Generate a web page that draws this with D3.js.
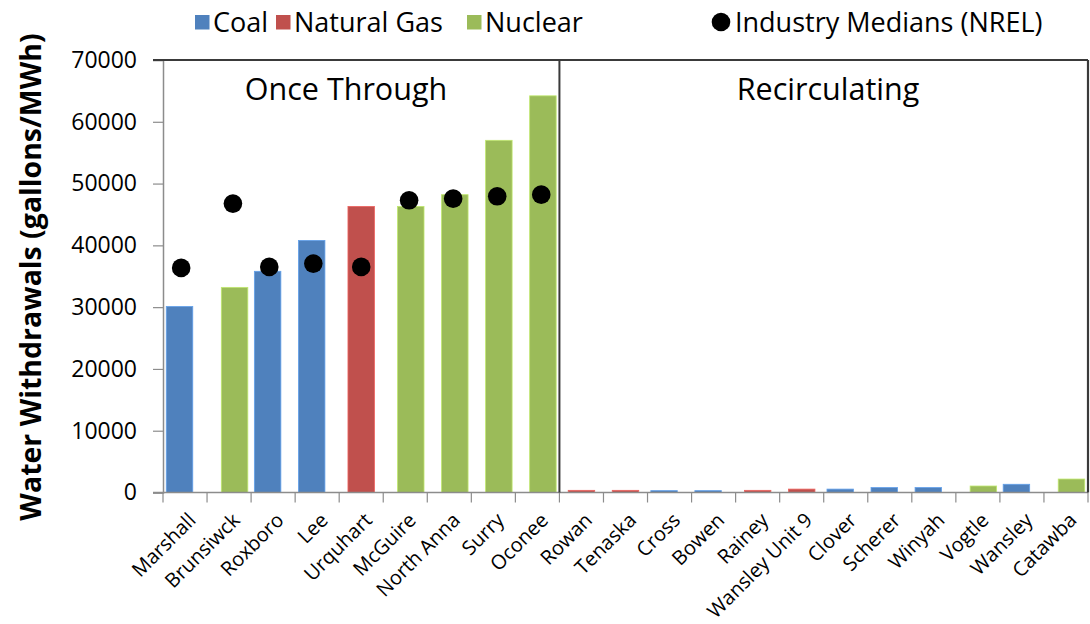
<!DOCTYPE html>
<html>
<head>
<meta charset="utf-8">
<script src="https://cdn.jsdelivr.net/npm/d3@7"></script>
<style>
  html, body { margin: 0; padding: 0; background: #fff; }
  svg text { font-family: "Open Sans", "Noto Sans", sans-serif; }
</style>
</head>
<body>
<svg id="chart" width="1090" height="624"></svg>
<script>
// ---- Data ----
const categories = ["Marshall","Brunsiwck","Roxboro","Lee","Urquhart","McGuire","North Anna","Surry","Oconee",
  "Rowan","Tenaska","Cross","Bowen","Rainey","Wansley Unit 9","Clover","Scherer","Winyah","Vogtle","Wansley","Catawba"];
const fuelTypes = ["Coal","Nuclear","Coal","Coal","Natural Gas","Nuclear","Nuclear","Nuclear","Nuclear",
  "Natural Gas","Natural Gas","Coal","Coal","Natural Gas","Natural Gas","Coal","Coal","Coal","Nuclear","Coal","Nuclear"];
const withdrawals = [30100, 33200, 35800, 40800, 46300, 46300, 48200, 57000, 64200,
  350, 350, 300, 300, 350, 550, 550, 800, 800, 1050, 1330, 2180];
const medianPlants = ["Marshall","Brunsiwck","Roxboro","Lee","Urquhart","McGuire","North Anna","Surry","Oconee"];
const medianValues = [36350, 46760, 36510, 37050, 36510, 47290, 47560, 47940, 48210];
const seriesNames = ["Coal","Natural Gas","Nuclear"];
const seriesColors = ["#4F81BD","#C0504D","#9BBB59"];
const panelNames = ["Once Through","Recirculating"];
const panelSizes = [9, 12];
const yTicks = [0,10000,20000,30000,40000,50000,60000,70000];
const yTitle = "Water Withdrawals (gallons/MWh)";
const medianLabel = "Industry Medians (NREL)";

// ---- Layout ----
const svg = d3.select("#chart");
const pLeft = 163, pRight = 1088, pTop = 60, pBottom = 492.5;

const x = d3.scaleBand().domain(categories).range([pLeft, pRight]).padding(0);
const y = d3.scaleLinear().domain([0, 70000]).range([pBottom, pTop]);
const offset = d3.scalePoint().domain(seriesNames).range([-5.5, 5.5]);
const color = d3.scaleOrdinal().domain(seriesNames).range(seriesColors);
const barW = 26.5;

const rows = categories.map((c, i) => ({ name: c, type: fuelTypes[i], value: withdrawals[i] }));

// bars
svg.append("g").selectAll("rect").data(rows).join("rect")
  .attr("x", d => x(d.name) + x.bandwidth() / 2 + offset(d.type) - barW / 2)
  .attr("y", d => y(d.value))
  .attr("width", barW)
  .attr("height", d => y(0) - y(d.value))
  .attr("fill", d => color(d.type))
  .attr("stroke", d => d3.color(color(d.type)).brighter(0.6))
  .attr("stroke-width", 0.8);

// y axis
const yAxis = svg.append("g").attr("transform", `translate(${pLeft},0)`)
  .call(d3.axisLeft(y).tickValues(yTicks).tickFormat(d3.format("d")).tickSize(10).tickPadding(16));
yAxis.select(".domain").attr("stroke", "#8c8c8c").attr("stroke-width", 1.5);
yAxis.selectAll(".tick line").attr("stroke", "#8c8c8c").attr("stroke-width", 1.2);
yAxis.selectAll(".tick text").attr("font-size", 23).attr("fill", "#000")
  .style("font-family", '"Open Sans", sans-serif');

// x axis line with boundary ticks
const xg = svg.append("g");
xg.append("line").attr("x1", pLeft - 10).attr("x2", pRight).attr("y1", y(0)).attr("y2", y(0))
  .attr("stroke", "#8c8c8c").attr("stroke-width", 1.5);
const bounds = categories.map(c => x(c)).concat([pRight]);
xg.selectAll("line.tk").data(bounds).join("line").attr("class", "tk")
  .attr("x1", d => d).attr("x2", d => d).attr("y1", y(0)).attr("y2", y(0) + 10)
  .attr("stroke", "#8c8c8c").attr("stroke-width", 1.2);

// x labels rotated
xg.selectAll("text").data(categories).join("text")
  .attr("transform", d => `translate(${x(d) + x.bandwidth() / 2 + 12},${y(0) + 29}) rotate(-45)`)
  .attr("text-anchor", "end")
  .attr("font-size", 20)
  .attr("fill", "#000")
  .text(d => d);

// frame: top line, divider, right border
const dividerX = x(categories[panelSizes[0]]);
svg.append("line").attr("x1", pLeft - 10).attr("x2", pRight).attr("y1", pTop).attr("y2", pTop)
  .attr("stroke", "#3a3a3a").attr("stroke-width", 2);
svg.append("line").attr("x1", dividerX).attr("x2", dividerX).attr("y1", pTop).attr("y2", y(0))
  .attr("stroke", "#3a3a3a").attr("stroke-width", 2);
svg.append("line").attr("x1", pRight).attr("x2", pRight).attr("y1", pTop).attr("y2", y(0))
  .attr("stroke", "#3a3a3a").attr("stroke-width", 2.2);

// panel titles
const panelCenters = [346, 828];
svg.selectAll("text.panel").data(panelNames).join("text").attr("class", "panel")
  .attr("x", (d, i) => panelCenters[i])
  .attr("y", 100)
  .attr("text-anchor", "middle")
  .attr("font-size", 30.5)
  .attr("fill", "#000")
  .text(d => d);

// median dots
const medRows = medianPlants.map((p, i) => ({ name: p, value: medianValues[i], type: fuelTypes[categories.indexOf(p)] }));
svg.append("g").selectAll("circle").data(medRows).join("circle")
  .attr("cx", d => x(d.name) + x.bandwidth() / 2 + offset(d.type) * 0.7)
  .attr("cy", d => y(d.value))
  .attr("r", 9.3)
  .attr("fill", "#000");

// y title
svg.append("text")
  .attr("transform", `translate(41,277) rotate(-90)`)
  .attr("text-anchor", "middle")
  .attr("font-size", 28.5)
  .attr("font-weight", "bold")
  .attr("fill", "#000")
  .text(yTitle);

// legend
const legend = svg.append("g");
const legendX = [195, 276, 467];
seriesNames.forEach((s, i) => {
  legend.append("rect").attr("x", legendX[i]).attr("y", 15).attr("width", 14.5).attr("height", 14.5)
    .attr("fill", seriesColors[i]);
  legend.append("text").attr("x", legendX[i] + 18).attr("y", 32).attr("font-size", 27)
    .attr("fill", "#000").text(s);
});
legend.append("circle").attr("cx", 721).attr("cy", 22).attr("r", 9.3).attr("fill", "#000");
legend.append("text").attr("x", 735).attr("y", 32).attr("font-size", 27).attr("fill", "#000").text(medianLabel);
</script>
</body>
</html>
